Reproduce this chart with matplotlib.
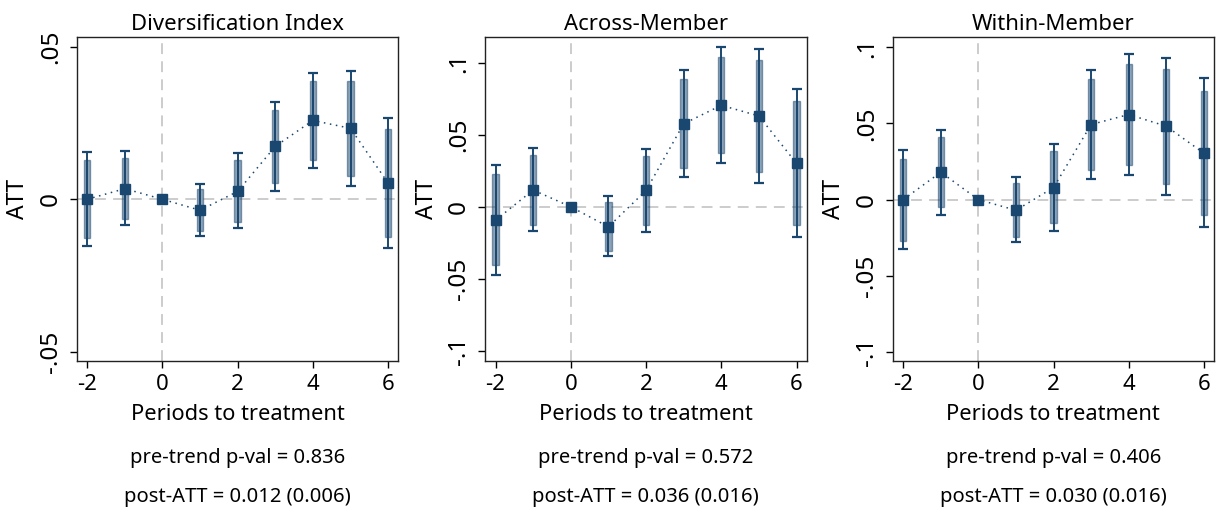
import matplotlib
matplotlib.use("Agg")
import matplotlib.pyplot as plt


periods = [-2, -1, 0, 1, 2, 3, 4, 5, 6]

titles = ["Diversification Index", "Across-Member", "Within-Member"]
pretrend_pvals = ["0.836", "0.572", "0.406"]
post_atts = ["0.012 (0.006)", "0.036 (0.016)", "0.030 (0.016)"]

# Diversification Index
div_est = [0.0, 0.0035, 0.0, -0.0036, 0.0026, 0.0174, 0.0259, 0.0233, 0.0053]
div_lo95 = [-0.0153, -0.0085, 0.0, -0.0120, -0.0095, 0.0027, 0.0102, 0.0044, -0.0159]
div_hi95 = [0.0155, 0.0158, 0.0, 0.0049, 0.0151, 0.0320, 0.0415, 0.0421, 0.0266]
div_lo90 = [-0.0128, -0.0065, 0.0, -0.0105, -0.0075, 0.0053, 0.0129, 0.0075, -0.0124]
div_hi90 = [0.0128, 0.0135, 0.0, 0.0033, 0.0128, 0.0294, 0.0387, 0.0390, 0.0230]

# Across-Member
acr_est = [-0.0093, 0.0116, 0.0, -0.0139, 0.0113, 0.0576, 0.0704, 0.0630, 0.0301]
acr_lo95 = [-0.0470, -0.0169, 0.0, -0.0343, -0.0176, 0.0208, 0.0306, 0.0164, -0.0210]
acr_hi95 = [0.0289, 0.0407, 0.0, 0.0076, 0.0403, 0.0949, 0.1110, 0.1097, 0.0817]
acr_lo90 = [-0.0407, -0.0123, 0.0, -0.0308, -0.0127, 0.0271, 0.0370, 0.0240, -0.0125]
acr_hi90 = [0.0225, 0.0356, 0.0, 0.0035, 0.0350, 0.0884, 0.1040, 0.1016, 0.0731]

# Within-Member
wit_est = [0.0, 0.0180, 0.0, -0.0070, 0.0079, 0.0493, 0.0559, 0.0482, 0.0305]
wit_lo95 = [-0.0322, -0.0099, 0.0, -0.0281, -0.0204, 0.0134, 0.0162, 0.0033, -0.0182]
wit_hi95 = [0.0325, 0.0458, 0.0, 0.0147, 0.0366, 0.0851, 0.0956, 0.0930, 0.0796]
wit_lo90 = [-0.0270, -0.0050, 0.0, -0.0243, -0.0156, 0.0193, 0.0226, 0.0105, -0.0099]
wit_hi90 = [0.0270, 0.0408, 0.0, 0.0110, 0.0316, 0.0789, 0.0888, 0.0855, 0.0715]

yticks = [[-0.05, 0, 0.05], [-0.1, -0.05, 0, 0.05, 0.1], [-0.1, -0.05, 0, 0.05, 0.1]]
yticklabels = [["-.05", "0", ".05"], ["-.1", "-.05", "0", ".05", ".1"], ["-.1", "-.05", "0", ".05", ".1"]]
ylims = [(-0.0531, 0.0534), (-0.107, 0.118), (-0.106, 0.107)]

NAVY = "#1a476f"
W, H = 1222, 513

plt.rcParams["font.family"] = ["Noto Sans", "DejaVu Sans"]

fig = plt.figure(figsize=(W / 100, H / 100), dpi=100)

panels = [
    (div_est, div_lo95, div_hi95, div_lo90, div_hi90),
    (acr_est, acr_lo95, acr_hi95, acr_lo90, acr_hi90),
    (wit_est, wit_lo95, wit_hi95, wit_lo90, wit_hi90),
]
# axes boxes in pixels: left, right
lefts = [76.7, 485, 892.7]
rights = [398.3, 806.7, 1214]
top_px, bot_px = 36.7, 361

for i, (est, lo95, hi95, lo90, hi90) in enumerate(panels):
    ax = fig.add_axes([lefts[i] / W, 1 - bot_px / H,
                       (rights[i] - lefts[i]) / W, (bot_px - top_px) / H])
    ax.axhline(0, color="#c8c8c8", lw=1.3, ls=(0, (6, 4)), zorder=1)
    ax.axvline(0, color="#c8c8c8", lw=1.3, ls=(0, (6, 4)), zorder=1)

    # 90% band as a thick semi-transparent bar
    ax.bar(periods, [h - l for h, l in zip(hi90, lo90)], bottom=lo90, width=0.17,
           color=NAVY, alpha=0.5, edgecolor=NAVY, linewidth=1.0, zorder=2)
    # 95% interval with caps
    ax.errorbar(periods, est,
                yerr=[[e - l for e, l in zip(est, lo95)], [h - e for e, h in zip(est, hi95)]],
                fmt="none", ecolor=NAVY, elinewidth=1.4, capsize=3.6, capthick=1.6, zorder=3)
    ax.plot(periods, est, color=NAVY, lw=1.1, ls=(0, (1, 3)), zorder=4)
    ax.plot(periods, est, ls="none", marker="s", ms=7, color=NAVY, zorder=5)

    ax.set_xlim(-2.28, 6.27)
    ax.set_ylim(*ylims[i])
    ax.set_xticks([-2, 0, 2, 4, 6])
    ax.set_xticklabels(["-2", "0", "2", "4", "6"])
    ax.set_yticks(yticks[i])
    ax.set_yticklabels(yticklabels[i], rotation=90, va="center")
    ax.tick_params(axis="both", length=5, width=1, direction="out")
    ax.tick_params(axis="x", labelsize=16, pad=4)
    ax.tick_params(axis="y", labelsize=17.5, pad=5)
    for s in ax.spines.values():
        s.set_linewidth(1.0)
        s.set_color("#222222")

    ax.set_title(titles[i], fontsize=15.9, pad=5)
    ax.set_ylabel("ATT", fontsize=16.5, labelpad=6)

    cx = (lefts[i] + rights[i]) / 2 / W
    fig.text(cx, 1 - 415 / H, "Periods to treatment", ha="center", va="center", fontsize=15.7)
    fig.text(cx, 1 - 458 / H, f"pre-trend p-val = {pretrend_pvals[i]}", ha="center", va="center", fontsize=14.5)
    fig.text(cx, 1 - 497 / H, f"post-ATT = {post_atts[i]}", ha="center", va="center", fontsize=14.5)

fig.savefig("out.png", dpi=100, facecolor="white")
